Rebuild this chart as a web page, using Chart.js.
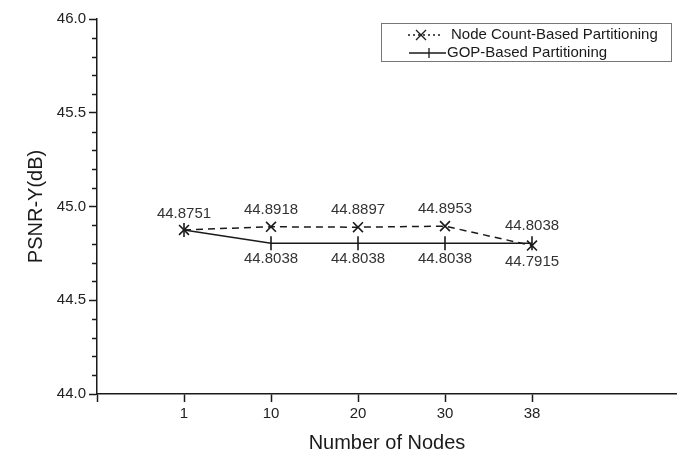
<!DOCTYPE html>
<html>
<head>
<meta charset="utf-8">
<script src="https://cdn.jsdelivr.net/npm/chart.js@4"></script>
<style>
  html, body { margin: 0; padding: 0; background: #fff; }
  #grafico { display: block; }
</style>
</head>
<body>
<canvas id="grafico" width="677" height="457"></canvas>
<script>
// Dati
const categorie = ['1', '10', '20', '30', '38'];
const nodeCountPsnr = [44.8751, 44.8918, 44.8897, 44.8953, 44.7915];
const gopPsnr = [44.8751, 44.8038, 44.8038, 44.8038, 44.8038];
const nomiSerie = ['Node Count-Based Partitioning', 'GOP-Based Partitioning'];
const yTicks = [44.0, 44.5, 45.0, 45.5, 46.0];

const FONT = '"Liberation Sans", Arial, sans-serif';
const NERO = '#1a1a1a';

// posizioni x: 1..5 sull'asse lineare
function punti(valori) {
    return valori.map((v, i) => ({ x: i + 1, y: v }));
}

// Tacche minori sull'asse y
const pluginAssi = {
    id: 'assiExtra',
    afterDraw(chart) {
        const ctx = chart.ctx;
        const y = chart.scales.y;
        ctx.save();
        ctx.strokeStyle = NERO;
        ctx.lineWidth = 1.5;
        for (let k = 1; k < 20; k++) {
            if (k % 5 === 0) continue;
            const py = Math.round(y.getPixelForValue(44 + k * 0.1)) + 0.5;
            ctx.beginPath();
            ctx.moveTo(y.right - 5, py);
            ctx.lineTo(y.right, py);
            ctx.stroke();
        }
        ctx.restore();
    }
};

// Etichette dei valori sopra/sotto i punti
const pluginEtichette = {
    id: 'etichette',
    afterDatasetsDraw(chart) {
        const ctx = chart.ctx;
        const m0 = chart.getDatasetMeta(0).data;
        const m1 = chart.getDatasetMeta(1).data;
        ctx.save();
        ctx.font = '15px ' + FONT;
        ctx.fillStyle = '#333';
        ctx.textAlign = 'center';
        ctx.textBaseline = 'middle';
        for (let i = 0; i < categorie.length; i++) {
            const a = nodeCountPsnr[i], b = gopPsnr[i];
            if (a === b) {
                ctx.fillText(a.toFixed(4), m0[i].x, m0[i].y - 16);
                continue;
            }
            const alto = a > b ? [a, m0[i]] : [b, m1[i]];
            const basso = a > b ? [b, m1[i]] : [a, m0[i]];
            ctx.fillText(alto[0].toFixed(4), alto[1].x, alto[1].y - 17);
            ctx.fillText(basso[0].toFixed(4), basso[1].x, basso[1].y + 16);
        }
        ctx.restore();
    }
};

// Legenda disegnata a mano nel riquadro in alto a destra
const pluginLegenda = {
    id: 'legenda',
    afterDraw(chart) {
        const ctx = chart.ctx;
        ctx.save();
        ctx.strokeStyle = '#777';
        ctx.lineWidth = 1;
        ctx.strokeRect(381.5, 23.5, 290, 38);

        ctx.strokeStyle = NERO;
        ctx.lineWidth = 1.3;
        // riga 1: tratteggio + X
        ctx.setLineDash([2, 3]);
        ctx.beginPath(); ctx.moveTo(408, 35); ctx.lineTo(440, 35); ctx.stroke();
        ctx.setLineDash([]);
        ctx.beginPath();
        ctx.moveTo(416, 30); ctx.lineTo(426, 40);
        ctx.moveTo(426, 30); ctx.lineTo(416, 40);
        ctx.stroke();
        // riga 2: linea continua + tacca
        ctx.beginPath(); ctx.moveTo(409, 53); ctx.lineTo(446, 53); ctx.stroke();
        ctx.beginPath(); ctx.moveTo(429, 48); ctx.lineTo(429, 58); ctx.stroke();

        ctx.fillStyle = NERO;
        ctx.font = '15px ' + FONT;
        ctx.textBaseline = 'middle';
        ctx.fillText(nomiSerie[0], 451, 35);
        ctx.fillText(nomiSerie[1], 447, 53);
        ctx.restore();
    }
};

const ctx = document.getElementById('grafico').getContext('2d');
const myChart = new Chart(ctx, {
    type: 'line',
    data: {
        datasets: [
            {
                label: nomiSerie[0],
                data: punti(nodeCountPsnr),
                borderColor: NERO,
                borderWidth: 1.5,
                borderDash: [7, 5],
                pointStyle: 'crossRot',
                pointRadius: 7,
                pointBorderWidth: 1.6,
                pointBorderColor: NERO,
                fill: false
            },
            {
                label: nomiSerie[1],
                data: punti(gopPsnr),
                borderColor: NERO,
                borderWidth: 1.5,
                pointStyle: 'line',
                pointRotation: 90,
                pointRadius: 7,
                pointBorderWidth: 1.6,
                pointBorderColor: NERO,
                fill: false
            }
        ]
    },
    options: {
        responsive: false,
        animation: false,
        layout: { autoPadding: false, padding: { top: 19, right: 0, left: 0, bottom: 0 } },
        plugins: {
            legend: { display: false },
            tooltip: { enabled: false }
        },
        scales: {
            x: {
                type: 'linear',
                min: 0,
                max: 580 / 87,
                afterBuildTicks(scale) {
                    scale.ticks = [0, 1, 2, 3, 4, 5].map(v => ({ value: v }));
                },
                afterFit(scale) { scale.height = 63; },
                ticks: {
                    font: { family: FONT, size: 15 },
                    color: '#222',
                    padding: 3,
                    maxRotation: 0,
                    callback: v => (v >= 1 && v <= categorie.length) ? categorie[v - 1] : ''
                },
                grid: {
                    drawOnChartArea: false,
                    drawTicks: true,
                    tickLength: 8,
                    tickColor: NERO,
                    tickWidth: 1.5
                },
                border: { display: true, color: NERO, width: 1.5 },
                title: {
                    display: true,
                    text: 'Number of Nodes',
                    font: { family: FONT, size: 20 },
                    color: NERO,
                    padding: { top: 0, bottom: 2 }
                }
            },
            y: {
                min: 44,
                max: 46,
                afterBuildTicks(scale) {
                    scale.ticks = yTicks.map(v => ({ value: v }));
                },
                afterFit(scale) { scale.width = 97; },
                ticks: {
                    font: { family: FONT, size: 15 },
                    color: '#222',
                    padding: 3,
                    callback: v => v.toFixed(1)
                },
                grid: {
                    drawOnChartArea: false,
                    drawTicks: true,
                    tickLength: 8,
                    tickColor: NERO,
                    tickWidth: 1.5
                },
                border: { display: true, color: NERO, width: 1.5 },
                title: {
                    display: true,
                    text: 'PSNR-Y(dB)',
                    font: { family: FONT, size: 20 },
                    color: NERO,
                    padding: { top: 24, bottom: 0 }
                }
            }
        }
    },
    plugins: [pluginAssi, pluginEtichette, pluginLegenda]
});
</script>
</body>
</html>
